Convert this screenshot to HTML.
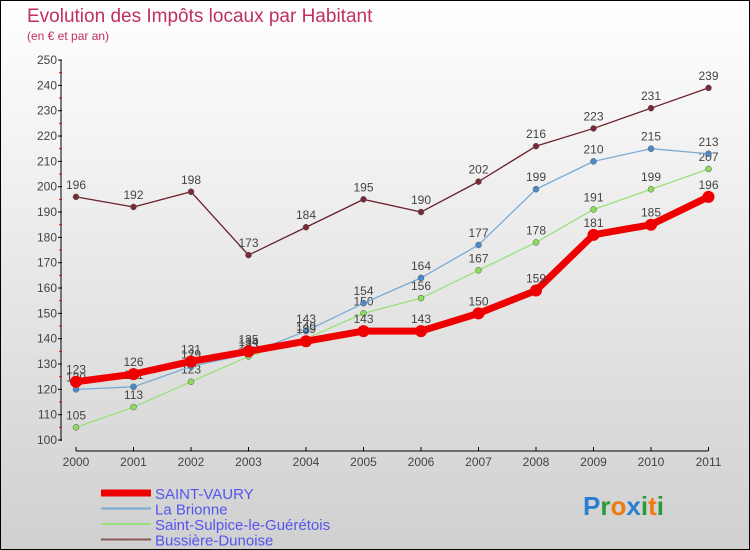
<!DOCTYPE html>
<html><head><meta charset="utf-8"><style>
body{margin:0}
#c{width:750px;height:550px;position:relative;box-sizing:border-box;border:1px solid #000;background:linear-gradient(#ffffff,#d0d0d0);font-family:"Liberation Sans",sans-serif;overflow:hidden}
</style></head><body>
<div id="c">
<svg id="s" width="750" height="550" style="position:absolute;left:-1px;top:-1px"></svg>
</div>
<script>
const years=["2000","2001","2002","2003","2004","2005","2006","2007","2008","2009","2010","2011"];
const yTicks=[100,110,120,130,140,150,160,170,180,190,200,210,220,230,240,250];
const saintVaury=[123,126,131,135,139,143,143,150,159,181,185,196];
const laBrionne=[120,121,129,134,143,154,164,177,199,210,215,213];
const saintSulpice=[105,113,123,133,140,150,156,167,178,191,199,207];
const bussiere=[196,192,198,173,184,195,190,202,216,223,231,239];
const names=["SAINT-VAURY","La Brionne","Saint-Sulpice-le-Guérétois","Bussière-Dunoise"];
const NS="http://www.w3.org/2000/svg";
const s=document.getElementById('s');
const X=i=>76+i*57.5;
const Y=v=>440-(v-100)*2.533;
function el(t,a,txt){const e=document.createElementNS(NS,t);for(const k in a)e.setAttribute(k,a[k]);if(txt!==undefined)e.textContent=txt;s.appendChild(e);return e;}
let t=el('text',{x:27,y:22,'font-size':19,fill:'#c0305a'},'Evolution des Impôts locaux par Habitant');

t=el('text',{x:27,y:40,'font-size':12,fill:'#c0305a'},'(en € et par an)');

// axes
t=el('line',{x1:61,y1:60,x2:61,y2:441,stroke:'#000'});
t=el('line',{x1:76,y1:451,x2:708,y2:451,stroke:'#000'});
yTicks.forEach((v,i)=>{
 el('line',{x1:58,y1:Y(v),x2:62,y2:Y(v),stroke:'#000'});
 if(i<yTicks.length-1)el('line',{x1:59,y1:Y(v+5),x2:62,y2:Y(v+5),stroke:'#e00'});
 const l=el('text',{x:57,y:Y(v)+4,'font-size':12,fill:'#444','text-anchor':'end'},v);
 
});
years.forEach((y,i)=>{
 el('line',{x1:X(i),y1:447,x2:X(i),y2:451,stroke:'#000'});
 const l=el('text',{x:X(i),y:466,'font-size':12,fill:'#444','text-anchor':'middle'},y);
 
});
const series=[
 {d:bussiere,c:'#6b1f2a',f:'#7a2a35',w:1.3,r:3,n:'bussiere-dunoise-line'},
 {d:saintSulpice,c:'#9be07a',f:'#8fdc5a',w:1.3,r:3,n:'saint-sulpice-line'},
 {d:laBrionne,c:'#7aaad6',f:'#4a8cca',w:1.3,r:3,n:'la-brionne-line'},
 {d:saintVaury,c:'#ee0000',f:'#ee0000',w:7,r:6,n:'saint-vaury-line'}
];
series.forEach(sr=>{
 const p=el('polyline',{points:sr.d.map((v,i)=>X(i)+','+Y(v)).join(' '),fill:'none',stroke:sr.c,'stroke-width':sr.w,'stroke-linejoin':'round'});
 
 sr.d.forEach((v,i)=>{
  const c=el('circle',{cx:X(i),cy:Y(v),r:sr.r,fill:sr.f,stroke:sr.w>2?'none':'#555','stroke-width':0.5});
  
  const l=el('text',{x:X(i),y:Y(v)-8,'font-size':12,fill:'#444','text-anchor':'middle'},v);
  
 });
});
const lc=['#ee0000','#7aaad6','#9be07a','#8a5a5a'];
names.forEach((n,i)=>{
 const y=493+i*15.5;
 const ln=el('line',{x1:101,y1:y,x2:151,y2:y,stroke:lc[i],'stroke-width':i==0?7:2});
 
 const l=el('text',{x:155,y:y+6,'font-size':15,fill:'#5555ee'},n);
 
});
const g=el('text',{x:583,y:515,'font-size':26,'font-weight':'bold'});

[['P','#2a7fd0'],['r','#2a9a3a'],['o','#f07a10'],['x','#2a7fd0'],['i','#2a9a3a'],['t','#f07a10'],['i','#2a9a3a']].forEach(([ch,c])=>{
 const ts=document.createElementNS(NS,'tspan');ts.setAttribute('fill',c);ts.textContent=ch;g.appendChild(ts);
});
</script>
</body></html>
